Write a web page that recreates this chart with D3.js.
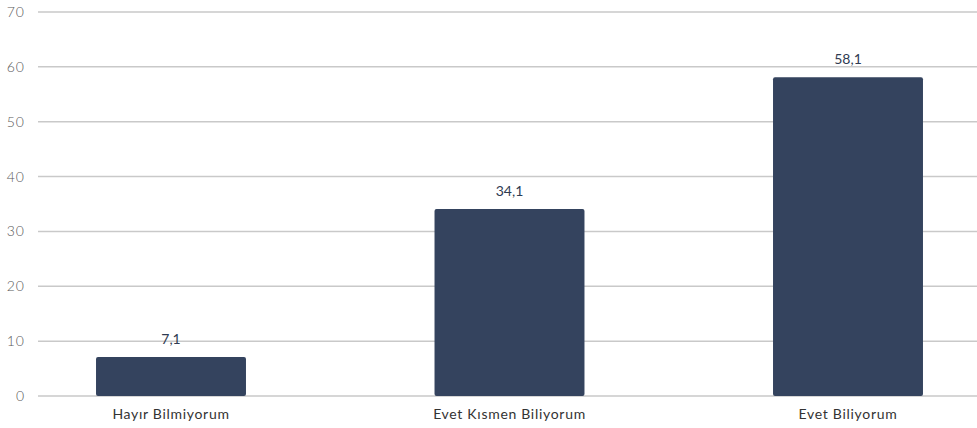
<!DOCTYPE html>
<html><head><meta charset="utf-8">
<script src="https://cdn.jsdelivr.net/npm/d3@7"></script>
<style>body{margin:0;background:#fff;}svg{display:block;font-family:Lato,sans-serif;}</style>
</head><body>
<svg id="c" width="977" height="428"></svg>
<script>
const categories = ["Hayır Bilmiyorum", "Evet Kısmen Biliyorum", "Evet Biliyorum"];
const values = [7.1, 34.1, 58.1];
const valueLabels = ["7,1", "34,1", "58,1"];
const yTicks = [0, 10, 20, 30, 40, 50, 60, 70];

const svg = d3.select("#c");
const y = d3.scaleLinear().domain([0, 70]).range([396, 12]);
const x = d3.scaleBand().domain(categories).range([1.75, 1017.25]).paddingInner(0.557).paddingOuter(0.2785);

const grid = svg.append("g");
grid.selectAll("line").data(yTicks).join("line")
  .attr("x1", 38).attr("x2", 977)
  .attr("y1", d => y(d)).attr("y2", d => y(d))
  .attr("stroke", "#c9c9c9").attr("stroke-width", 1.5);

const yAxis = d3.axisLeft(y).tickValues(yTicks).tickSize(0).tickPadding(0).tickFormat(d3.format("d"));
const ya = svg.append("g").attr("transform", "translate(25,0)").call(yAxis);
ya.select(".domain").remove();
ya.selectAll("text").attr("font-family", "Lato").attr("font-weight", 300).attr("font-size", 14)
  .attr("letter-spacing", "1px").attr("fill", "#5a5a5a");

svg.append("g").selectAll("rect").data(values).join("rect")
  .attr("x", (d, i) => x(categories[i]))
  .attr("width", x.bandwidth())
  .attr("y", d => y(d))
  .attr("height", d => y(0) - y(d))
  .attr("rx", 2).attr("fill", "#34435e");

svg.append("g").selectAll("text").data(values).join("text")
  .attr("x", (d, i) => x(categories[i]) + x.bandwidth() / 2)
  .attr("y", d => y(d) - 13)
  .attr("text-anchor", "middle")
  .attr("font-size", 14).attr("fill", "#2f3b52")
  .text((d, i) => valueLabels[i]);

const xAxis = d3.axisBottom(x).tickSize(0).tickPadding(0);
const xa = svg.append("g").attr("transform", "translate(0,419)").call(xAxis);
xa.select(".domain").remove();
xa.selectAll("text").attr("font-family", "Lato").attr("font-size", 14).attr("fill", "#333")
  .attr("letter-spacing", "0.7px").attr("dy", "0");
</script>
</body></html>
